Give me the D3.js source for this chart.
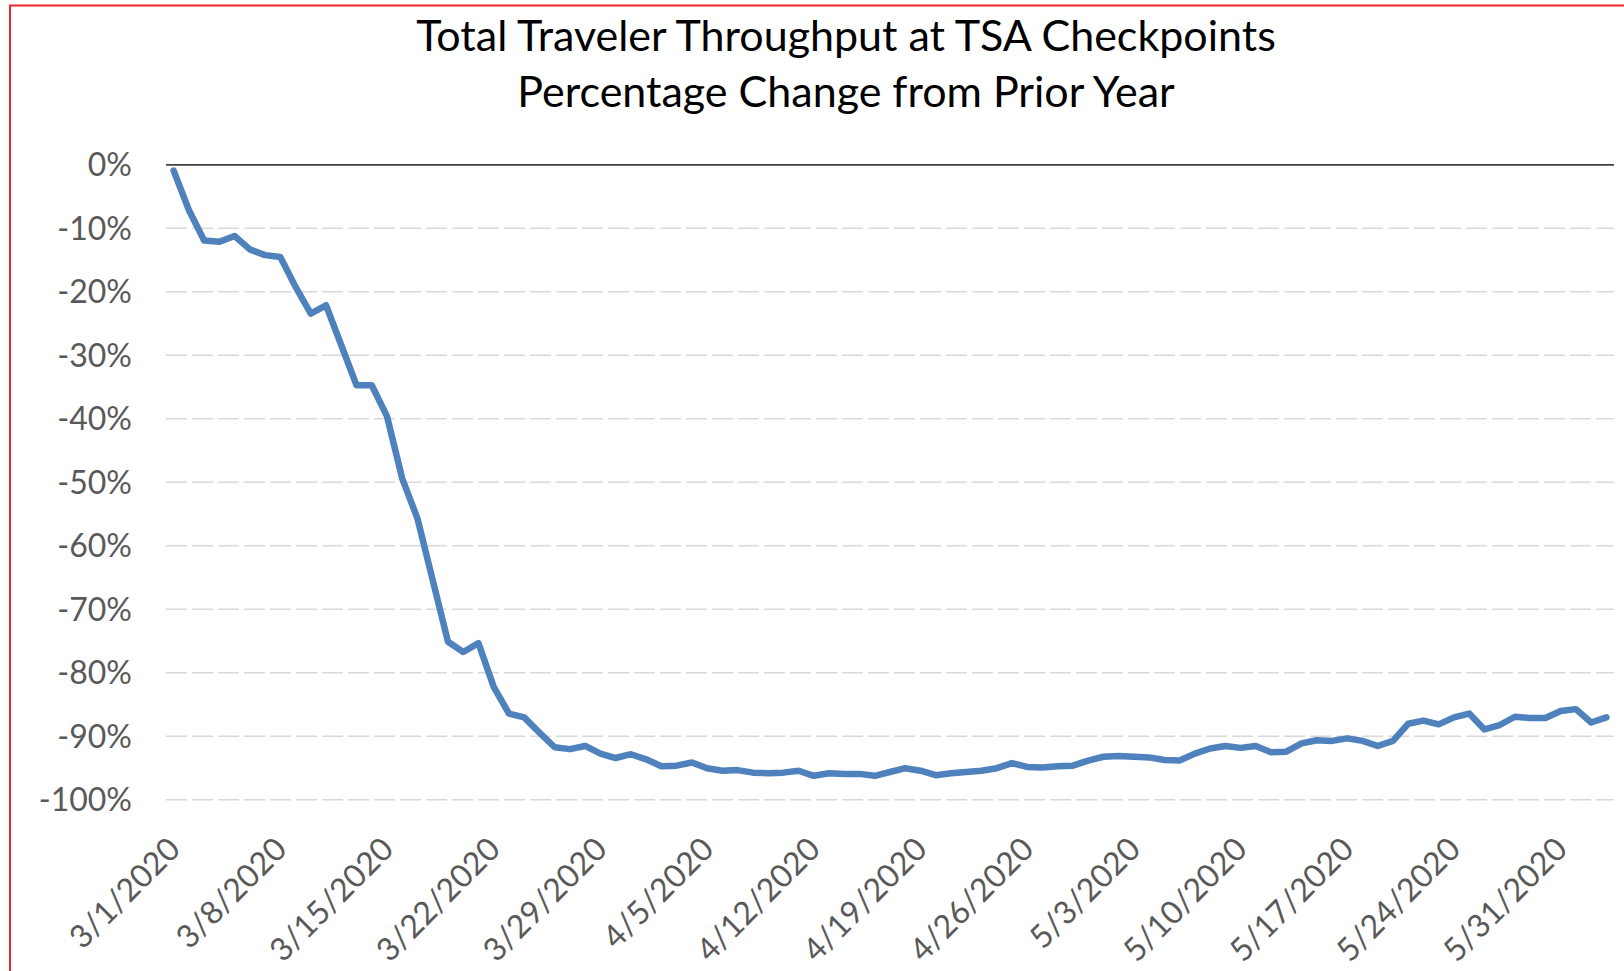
<!DOCTYPE html>
<html>
<head>
<meta charset="utf-8">
<script src="https://cdn.jsdelivr.net/npm/d3@7"></script>
<style>
  html, body { margin: 0; padding: 0; background: #fff; }
  svg { display: block; }
</style>
</head>
<body>
<div id="chart"></div>
<script>
// daily TSA throughput, % change vs same weekday last year (3/1/2020 - 6/3/2020)
const startDate = new Date(2020, 2, 1);
const endDate = new Date(2020, 5, 4); // exclusive
const dates = d3.timeDay.range(startDate, endDate);

const pctChange = [
    -1.0, -7.2, -12.0, -12.2, -11.3, -13.4, -14.3, -14.6, -19.3, -23.5,
    -22.2, -28.5, -34.8, -34.8, -39.7, -49.5, -55.8, -65.5, -75.2, -76.8,
    -75.4, -82.3, -86.5, -87.1, -89.5, -91.8, -92.1, -91.6, -92.8, -93.5,
    -92.9, -93.7, -94.8, -94.7, -94.2, -95.1, -95.5, -95.4, -95.8, -95.9,
    -95.8, -95.5, -96.3, -95.9, -96.0, -96.0, -96.3, -95.7, -95.1, -95.5,
    -96.2, -95.9, -95.7, -95.5, -95.1, -94.3, -94.9, -95.0, -94.8, -94.7,
    -93.9, -93.3, -93.2, -93.3, -93.4, -93.8, -93.9, -92.8, -92.0, -91.6,
    -91.9, -91.6, -92.6, -92.5, -91.2, -90.7, -90.8, -90.4, -90.8, -91.6,
    -90.8, -88.1, -87.6, -88.2, -87.1, -86.5, -89.0, -88.3, -87.0, -87.2,
    -87.2, -86.1, -85.8, -87.9, -87.1
];

const tickLabels = ['3/1/2020', '3/8/2020', '3/15/2020', '3/22/2020', '3/29/2020',
    '4/5/2020', '4/12/2020', '4/19/2020', '4/26/2020', '5/3/2020',
    '5/10/2020', '5/17/2020', '5/24/2020', '5/31/2020'];

const yTicks = [0, -10, -20, -30, -40, -50, -60, -70, -80, -90, -100];

const titleLines = ['Total Traveler Throughput at TSA Checkpoints', 'Percentage Change from Prior Year'];

const W = 1624, H = 971;
const plot = { left: 166, right: 1614, top: 164.3, bottom: 799.3 };
const FONT = 'Lato, "Open Sans", sans-serif';

const svg = d3.select('#chart').append('svg')
    .attr('width', W)
    .attr('height', H)
    .style('font-family', FONT);

svg.append('rect').attr('width', W).attr('height', H).attr('fill', '#fff');

// red frame, only top + left edges show in the original
svg.append('rect')
    .attr('x', 10).attr('y', 5.5)
    .attr('width', W + 50).attr('height', H + 50)
    .attr('fill', 'none')
    .attr('stroke', '#e8272b')
    .attr('stroke-width', 2);

// title
svg.append('g').selectAll('text')
    .data(titleLines)
    .join('text')
    .attr('x', 846)
    .attr('y', (d, i) => 51 + i * 55.5)
    .attr('text-anchor', 'middle')
    .style('font-size', '43px')
    .style('fill', '#000')
    .text(d => d);

const data = dates.map((d, i) => ({ date: d, value: pctChange[i] }));
const fmtDate = d3.timeFormat('%-m/%-d/%Y');

const x = d3.scalePoint()
    .domain(dates.map(fmtDate))
    .range([plot.left, plot.right])
    .padding(0.5);

const y = d3.scaleLinear()
    .domain([-100, 0])
    .range([plot.bottom, plot.top]);

// y axis + gridlines
const yAxisG = svg.append('g')
    .attr('transform', `translate(${plot.left},0)`)
    .call(d3.axisLeft(y)
        .tickValues(yTicks)
        .tickSize(-(plot.right - plot.left))
        .tickPadding(34)
        .tickFormat(d => d + '%'));

yAxisG.select('.domain').remove();
yAxisG.selectAll('.tick line')
    .attr('stroke', d => d === 0 ? '#404040' : '#d9d9d9')
    .attr('stroke-width', d => d === 0 ? 1.8 : 1.5)
    .attr('stroke-dasharray', d => d === 0 ? null : '21,5');
yAxisG.selectAll('.tick text')
    .attr('dy', '0.35em')
    .style('font-family', FONT)
    .style('font-size', '32px')
    .style('fill', '#595959');

// x axis, rotated date labels
const xAxisG = svg.append('g')
    .attr('transform', `translate(0,${plot.bottom})`)
    .call(d3.axisBottom(x).tickValues(tickLabels).tickSize(0));

xAxisG.select('.domain').remove();
xAxisG.selectAll('.tick text')
    .attr('x', 0).attr('y', 0)
    .attr('dy', '0.35em')
    .attr('text-anchor', 'end')
    .attr('transform', 'translate(0,44) rotate(-45)')
    .style('font-family', FONT)
    .style('font-size', '32px')
    .style('fill', '#595959');

// the series
const line = d3.line()
    .x(d => x(fmtDate(d.date)))
    .y(d => y(d.value));

svg.append('path')
    .datum(data)
    .attr('fill', 'none')
    .attr('stroke', '#4f81bd')
    .attr('stroke-width', 6.5)
    .attr('stroke-linejoin', 'round')
    .attr('stroke-linecap', 'round')
    .attr('d', line);
</script>
</body>
</html>
